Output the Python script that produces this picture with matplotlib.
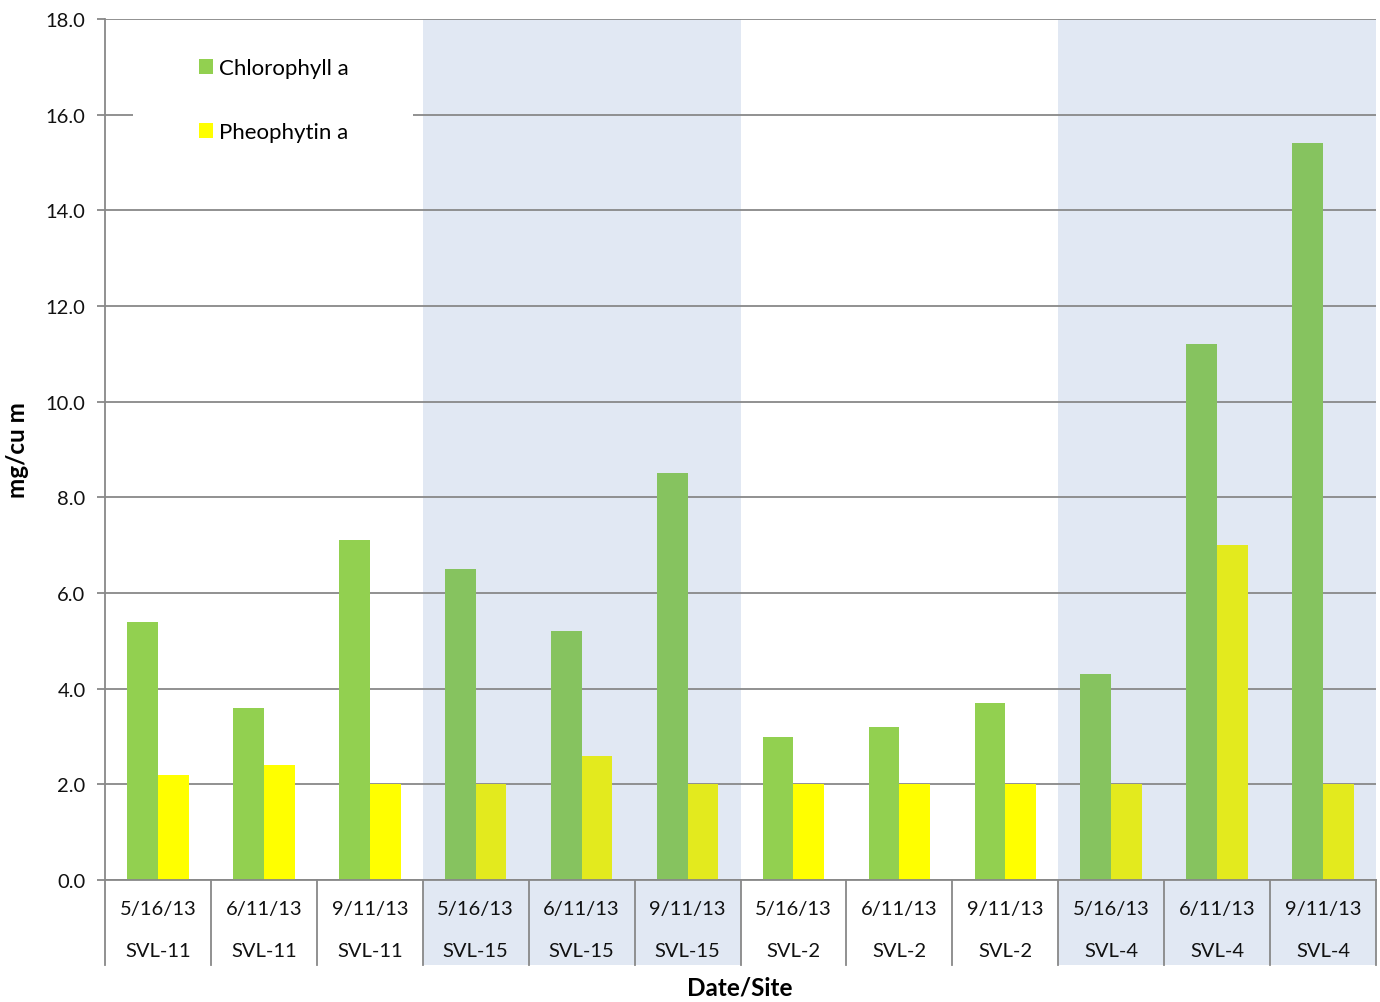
import matplotlib
matplotlib.use("Agg")
import matplotlib.pyplot as plt
from matplotlib.patches import Rectangle
from matplotlib.transforms import blended_transform_factory
import numpy as np

plt.rcParams['font.family'] = ['Lato', 'DejaVu Sans']

dates = ["5/16/13", "6/11/13", "9/11/13"] * 4
sites = ["SVL-11"] * 3 + ["SVL-15"] * 3 + ["SVL-2"] * 3 + ["SVL-4"] * 3
chlorophyll = [5.4, 3.6, 7.1, 6.5, 5.2, 8.5, 3.0, 3.2, 3.7, 4.3, 11.2, 15.4]
pheophytin = [2.2, 2.4, 2.0, 2.0, 2.6, 2.0, 2.0, 2.0, 2.0, 2.0, 7.0, 2.0]
shaded_sites = ["SVL-15", "SVL-4"]

fig = plt.figure(figsize=(13.8, 10.03), dpi=100)
ax = fig.add_axes([105/1380, 1-881/1003, (1376-105)/1380, (881-20)/1003])

n = len(dates)
x = np.arange(n)
w = 0.29
shade_col = "#E1E8F3"
green, green_s = "#92D050", "#86C35F"
yellow, yellow_s = "#FFFF00", "#E3EA1E"
gcols = [green_s if s in shaded_sites else green for s in sites]
ycols = [yellow_s if s in shaded_sites else yellow for s in sites]

ax.bar(x - w/2, chlorophyll, w, color=gcols, zorder=2, label="Chlorophyll a")
ax.bar(x + w/2, pheophytin, w, color=ycols, zorder=2, label="Pheophytin a")

ax.set_xlim(-0.5, n - 0.5)
ax.set_ylim(0, 18)
ax.set_yticks(np.arange(0, 18.1, 2))
ax.set_yticklabels([f"{v:.1f}" for v in np.arange(0, 18.1, 2)])
ax.yaxis.grid(True, color="#888888", linewidth=1.3)
ax.set_axisbelow(True)

trans = blended_transform_factory(ax.transData, ax.transAxes)
below = -(966-881)/861
# shading
i = 0
while i < n:
    if sites[i] in shaded_sites:
        j = i
        while j < n and sites[j] == sites[i]:
            j += 1
        ax.add_patch(Rectangle((i - 0.5, below), j - i, 1 - below, transform=trans,
                               facecolor=shade_col, edgecolor="none", zorder=0, clip_on=False))
        i = j
    else:
        i += 1

# separators and labels
for k in range(n + 1):
    ax.plot([k - 0.5, k - 0.5], [0, below], transform=trans, color="#888888",
            linewidth=1.3, clip_on=False, zorder=3)
for k in range(n):
    ax.text(k, -(910-881)/861, dates[k], transform=trans, ha="center", va="center", fontsize=14.5, color="#111111")
    ax.text(k, -(952-881)/861, sites[k], transform=trans, ha="center", va="center", fontsize=14.5, color="#111111")

ax.set_xticks([])
for s in ["top", "right"]:
    ax.spines[s].set_visible(False)
for s in ["left", "bottom"]:
    ax.spines[s].set_color("#888888")
    ax.spines[s].set_linewidth(1.3)
ax.tick_params(axis="y", length=6, width=1.3, color="#888888", labelsize=14.5, pad=8, labelcolor="#111111")

ax.set_ylabel("mg/cu m", fontsize=17.5, fontweight="bold", labelpad=12)
fig.text(740/1380, 1-988/1003, "Date/Site", ha="center", va="center", fontsize=17.5, fontweight="bold")

# white legend background
ax.add_patch(Rectangle(((133-105)/1271, 1-(165-20)/861), (413-133)/1271, (165-40)/861,
                       transform=ax.transAxes, facecolor="white", edgecolor="none", zorder=1))

leg = ax.legend(loc="upper left", bbox_to_anchor=((199-105)/1271, 1-(59-20)/861), frameon=False,
                fontsize=16, handlelength=0.65, handleheight=0.65, handletextpad=0.25,
                labelspacing=2.0, borderpad=0, borderaxespad=0)
leg.legend_handles[0].set_facecolor(green)
leg.legend_handles[1].set_facecolor(yellow)
leg.set_zorder(5)

fig.savefig("out.png", dpi=100)
